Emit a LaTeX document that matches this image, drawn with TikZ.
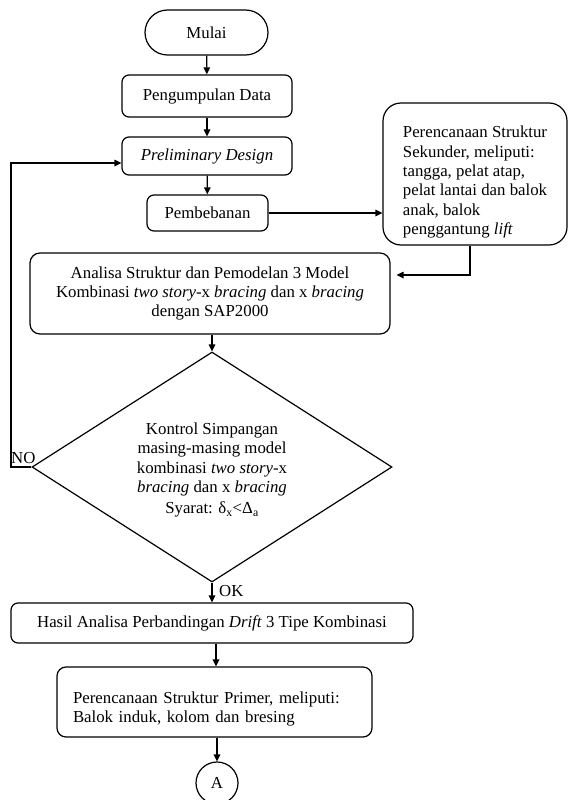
\documentclass[tikz,border=0pt]{standalone}
\usepackage{fontspec}
\setmainfont{Liberation Serif}
\usetikzlibrary{arrows.meta,shapes.geometric,calc}
\tikzset{
  box/.style={draw, line width=1.2pt, rounded corners=7pt, align=center, inner sep=0pt, font=\fontsize{16.8}{19.3}\selectfont},
  arr/.style={line width=1.2pt, -{Stealth[length=7pt,width=6.5pt,inset=0pt]}},
  lbl/.style={font=\fontsize{16.8}{19.3}\selectfont, inner sep=0pt}
}
\begin{document}
\begin{tikzpicture}[x=1pt,y=-1pt]
\useasboundingbox (0,0) rectangle (571,800);
\node[box, rounded corners=22.5pt, minimum width=123pt, minimum height=45pt] (mulai) at (206.5,32.5) {Mulai};
\node[box, minimum width=170pt, minimum height=42pt] (data) at (207,96) {Pengumpulan Data};
\node[box, minimum width=170pt, minimum height=38pt] (prelim) at (207,156) {\textit{Preliminary Design}};
\node[box, minimum width=121pt, minimum height=36pt] (beban) at (207.5,213) {Pembebanan};
\node[box, rounded corners=18pt, align=left, minimum width=184pt, minimum height=142pt] (sek) at (475,174)
  {\rule{0pt}{28pt}Perencanaan Struktur\\ Sekunder, meliputi:\\ tangga, pelat atap,\\ pelat lantai dan balok\\ anak, balok\\ penggantung \textit{lift}};
\node[box, rounded corners=10pt, minimum width=360pt, minimum height=81pt] (ana) at (210,293.5)
  {Analisa Struktur dan Pemodelan 3 Model\\ Kombinasi \textit{two story}-x \textit{bracing} dan x \textit{bracing}\\ dengan SAP2000};
\node[draw, line width=1.2pt, diamond, aspect=1.57, inner sep=0pt, minimum width=360pt, minimum height=230pt, align=center, font=\fontsize{16.8}{19.3}\selectfont] (dia) at (212,467)
  {\rule{0pt}{18pt}Kontrol Simpangan\\ masing-masing model\\ kombinasi \textit{two story}-x\\ \textit{bracing} dan x \textit{bracing}\\[2pt] Syarat: δ\textsubscript{x}<Δ\textsubscript{a}};
\node[box, minimum width=402pt, minimum height=40pt] (hasil) at (212,623)
  {Hasil Analisa Perbandingan \textit{Drift} 3 Tipe Kombinasi};
\node[box, rounded corners=9pt, align=left, text width=283pt, inner xsep=16pt, minimum height=70pt] (primer) at (214.5,702)
  {\rule{0pt}{25pt}Perencanaan Struktur Primer, meliputi:\\ Balok induk, kolom dan bresing};
\node[draw, line width=1.2pt, circle, minimum size=42pt, inner sep=0pt, font=\fontsize{16.8}{19.3}\selectfont] (A) at (217,783) {A};
\node[lbl, anchor=south west] (no) at (11,464) {NO};
\node[lbl, anchor=west] (ok) at (219,591) {OK};
\coordinate (lp) at (11,467);
\draw[arr] (mulai) -- (data);
\draw[arr] (data) -- (prelim);
\draw[arr] (prelim) -- (beban);
\draw[arr] (beban.east) -- (beban.east -| sek.west);
\draw[arr, shorten >=6pt] ([xshift=-5pt]sek.south) |- ([yshift=18.5pt]ana.east);
\draw[arr] (ana.south -| dia.north) -- (dia.north);
\draw[arr] (dia.west) -- (lp) |- ([yshift=-7pt]prelim.west);
\draw[arr] (dia.south) -- (dia.south |- hasil.north);
\draw[arr] (hasil.south -| 216,0) -- (primer.north -| 216,0);
\draw[arr] (primer.south -| A.north) -- (A.north);
\end{tikzpicture}
\end{document}
